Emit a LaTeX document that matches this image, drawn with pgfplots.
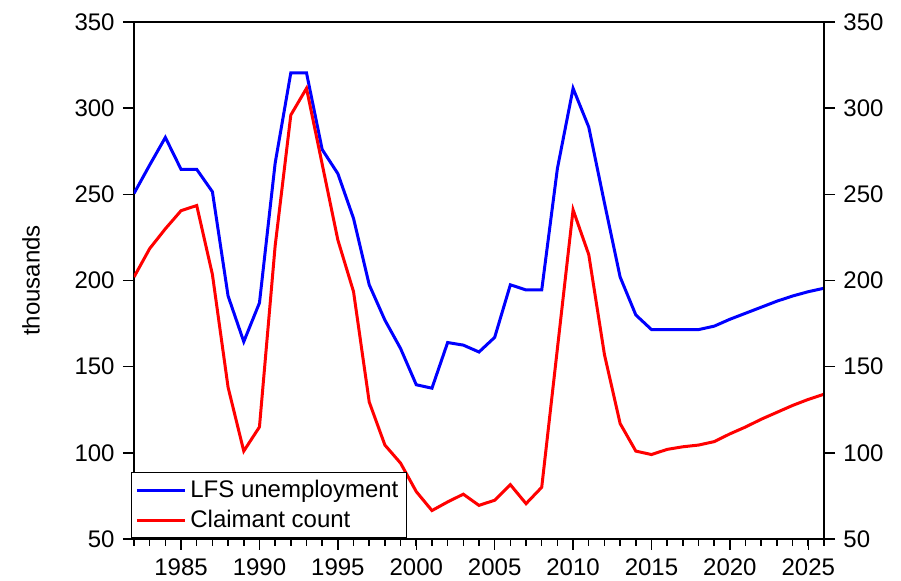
\documentclass[border=0pt]{standalone}
\usepackage{fontspec}
\setmainfont{Liberation Sans}
\usepackage{pgfplots}
\pgfplotsset{compat=1.18}
\pgfplotstableread{
year lfs cc
1982 250.5 202
1983 267 218.5
1984 283 230
1985 264.5 240.5
1986 264.5 243.5
1987 251.5 203.5
1988 191 138
1989 164.5 101
1990 187 115
1991 268 220
1992 320.5 296
1993 320.5 311.5
1994 276 267.5
1995 262 223.5
1996 236 193.5
1997 197.5 129.5
1998 177 104.5
1999 160.5 94
2000 139.5 77.5
2001 137.5 66.5
2002 164 71.5
2003 162.5 76
2004 158.5 69.5
2005 167 72.5
2006 197.5 81.5
2007 194.5 70.5
2008 194.5 80
2009 265 160.5
2010 311.5 241
2011 289 215
2012 245 157
2013 202 117
2014 180 101
2015 171.5 99
2016 171.5 102
2017 171.5 103.5
2018 171.5 104.5
2019 173.5 106.5
2020 177.5 111
2021 181 115
2022 184.5 119.5
2023 188 123.5
2024 191 127.5
2025 193.5 131
2026 195.5 134
}\data
\begin{document}
\fontsize{12}{14}\selectfont
\begin{tikzpicture}
\begin{axis}[
  scale only axis, width=345pt, height=258.5pt,
  xmin=1982, xmax=2026, ymin=50, ymax=350,
  xtick={1985,1990,...,2025}, minor xtick={1982,...,2026},
  ytick={50,100,...,350},
  xtick pos=bottom, ytick pos=left,
  tick align=outside,
  major tick length=5.5pt, minor tick length=3.5pt,
  every tick/.style={black, line width=0.75pt},
  axis line style={line width=0.8pt},
  /pgf/number format/assume math mode=true,
  xticklabel style={/pgf/number format/1000 sep={}},
  ylabel={thousands},
  ylabel style={at={(axis description cs:-0.1493,0.5)}, anchor=center},
  legend style={at={(rel axis cs:0,0)}, anchor=south west, xshift=-1.7pt,
    draw=black, line width=0.75pt, fill=white,
    inner xsep=2pt, inner ysep=1.5pt, row sep=0.8pt,
    cells={anchor=west}, font=\fontsize{12}{14}\selectfont},
  legend image code/.code={\draw[#1] (0pt,0pt) -- (24pt,0pt);},
  legend cell align=left,
]
\addplot[blue, line width=1.5pt] table[x=year, y=lfs] {\data};
\addlegendentry{LFS unemployment}
\addplot[red, line width=1.5pt] table[x=year, y=cc] {\data};
\addlegendentry{Claimant count}
\end{axis}
\begin{axis}[
  scale only axis, width=345pt, height=258.5pt,
  xmin=1982, xmax=2026, ymin=50, ymax=350,
  hide x axis, axis y line*=right,
  ytick={50,100,...,350},
  tick align=outside,
  major tick length=5.5pt,
  every tick/.style={black, line width=0.75pt},
  axis line style={line width=0.8pt},
  /pgf/number format/assume math mode=true,
]
\end{axis}
\pgfresetboundingbox
\path (current axis.south west) ++(-67pt,-21pt) rectangle ([shift={(38.5pt,11pt)}]current axis.north east);
\end{tikzpicture}
\end{document}
